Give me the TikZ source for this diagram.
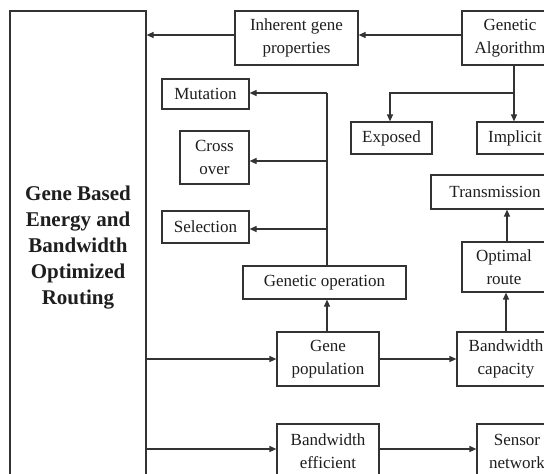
\documentclass[tikz,border=0pt]{standalone}
\usepackage{fontspec}
\setmainfont{Liberation Serif}
\usetikzlibrary{arrows.meta}
\definecolor{lc}{HTML}{333333}
\definecolor{tc}{HTML}{1E1E1E}
\begin{document}
\begin{tikzpicture}[x=1pt,y=-1pt,
  box/.style={draw=lc,line width=1.2pt,rectangle,inner sep=0pt,align=center,
    text=tc,font=\fontsize{17}{23}\selectfont},
  arr/.style={draw=lc,line width=1.2pt,-{Triangle[length=7pt,width=6pt]}},
  ln/.style={draw=lc,line width=1.2pt}]
\useasboundingbox (0,0) rectangle (544,474);
\fill[white] (0,0) rectangle (544,474);
\clip (0,0) rectangle (544,474);
% main box
\node[box,minimum width=136pt,minimum height=474pt,font=\fontsize{21}{26}\selectfont\bfseries] (big) at (78,248)
  {Gene Based\\Energy and\\Bandwidth\\Optimized\\Routing};
\node[box,minimum width=123pt,minimum height=54pt] (inh) at (296.5,38) {Inherent gene\\properties};
\node[box,minimum width=96pt,minimum height=54pt] (ga) at (510,38) {Genetic\\Algorithm};
\node[box,minimum width=87pt,minimum height=30pt] (mut) at (205.5,94) {Mutation};
\node[box,minimum width=69pt,minimum height=53pt] (cross) at (214.5,157.5) {Cross\\over};
\node[box,minimum width=87pt,minimum height=32pt] (sel) at (205.5,227) {Selection};
\node[box,minimum width=81pt,minimum height=32pt] (exp) at (391.5,138) {Exposed};
\node[box,minimum width=76pt,minimum height=32pt] (imp) at (515,138) {Implicit};
\node[box,minimum width=128pt,minimum height=34pt] (tra) at (495,192) {Transmission};
\node[box,minimum width=163pt,minimum height=33pt] (gop) at (324.5,282.5) {Genetic operation};
\node[box,minimum width=84pt,minimum height=50pt] (opt) at (504,267) {Optimal\\route};
\node[box,minimum width=102pt,minimum height=54pt] (gpop) at (328,359) {Gene\\population};
\node[box,minimum width=98pt,minimum height=54pt] (bwc) at (506,359) {Bandwidth\\capacity};
\node[box,minimum width=102pt,minimum height=54pt] (bwe) at (328,451) {Bandwidth\\efficient};
\node[box,minimum width=80pt,minimum height=54pt] (sen) at (517,451) {Sensor\\network};
% connectors
\draw[arr] ([yshift=3pt]ga.west) -- ([yshift=3pt]inh.east);
\draw[arr] ([yshift=3pt]inh.west) -- ([yshift=3pt]inh.west -| big.east);
\coordinate (gab) at (514,93);
\draw[arr] (gab |- ga.south) -- (gab |- imp.north);
\draw[arr] (gab) -| (390,0 |- exp.north);
\draw[arr] (bwc.north) -- (bwc.north |- opt.south);
\draw[arr] (507,0 |- opt.north) -- (507,0 |- tra.south);
\draw[arr] (gpop.west -| big.east) -- (gpop.west);
\draw[arr] (gpop.east) -- (bwc.west);
\draw[arr] (327,0 |- gpop.north) -- (327,0 |- gop.south);
\coordinate (gtop) at (327,93);
\draw[ln] (gtop |- gop.north) -- (gtop);
\draw[arr] (gtop) -- (gtop -| mut.east);
\draw[arr] (327,161) -- (cross.east |- 0,161);
\draw[arr] (327,229) -- (sel.east |- 0,229);
\draw[arr] (big.east |- 0,449) -- (bwe.west |- 0,449);
\draw[arr] (bwe.east |- 0,449) -- (sen.west |- 0,449);
\end{tikzpicture}
\end{document}
